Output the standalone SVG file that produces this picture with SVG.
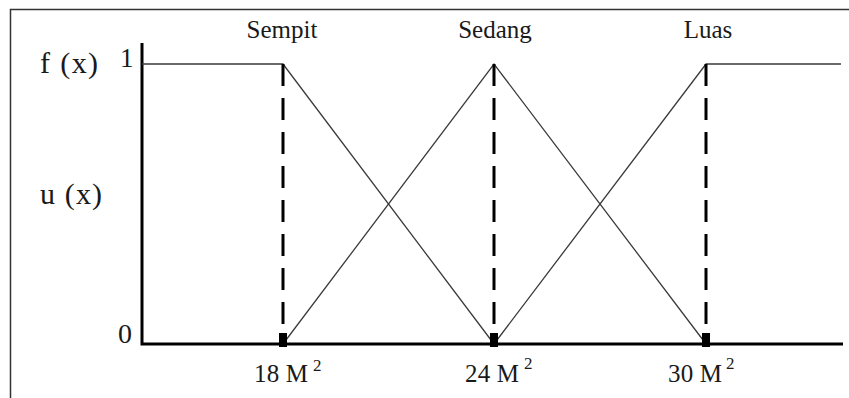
<svg xmlns="http://www.w3.org/2000/svg" width="849" height="398" viewBox="0 0 849 398">
<style>
text{font-family:'Liberation Serif','Times New Roman',Tinos,'DejaVu Serif',serif;fill:#1a1a1a}
.thin{stroke:#3a3a3a;stroke-width:1.3;fill:none}
.dash{stroke:#000;stroke-width:3;stroke-dasharray:22 12;fill:none}
.axis{stroke:#000;stroke-width:3;fill:none}
.frame{stroke:#333;stroke-width:1.5;fill:none}
</style>
<rect width="849" height="398" fill="#fff"/>
<g id="frame"><polyline class="frame" points="10.5,398 10.5,9.5 849,9.5"/></g>
<g id="axes">
<polyline class="axis" points="142,43 142,344 843,344"/>
</g>
<g id="connectors">
<polyline class="thin" points="142,64 283,64 494,344"/>
<polyline class="thin" points="283,344 494,64 706,344"/>
<polyline class="thin" points="494,344 706,64 841,64"/>
<line class="dash" x1="283" y1="64" x2="283" y2="340"/>
<line class="dash" x1="494" y1="64" x2="494" y2="340"/>
<line class="dash" x1="706" y1="64" x2="706" y2="340"/>
<rect x="279" y="333" width="8" height="14" fill="#000"/>
<rect x="490" y="333" width="8" height="14" fill="#000"/>
<rect x="702" y="333" width="8" height="14" fill="#000"/>
</g>
<g id="ylabels">
<text x="40" y="73" font-size="30" textLength="58" lengthAdjust="spacing">f (x)</text>
<text x="120" y="67" font-size="27">1</text>
<text x="40" y="204" font-size="30" textLength="62" lengthAdjust="spacing">u (x)</text>
<text x="118" y="343" font-size="28">0</text>
</g>
<g id="node-sempit"><text x="282" y="38" font-size="25" text-anchor="middle">Sempit</text></g>
<g id="node-sedang"><text x="495" y="38" font-size="25" text-anchor="middle">Sedang</text></g>
<g id="node-luas"><text x="708" y="38" font-size="25" text-anchor="middle">Luas</text></g>
<g id="xlabels">
<text x="254" y="382" font-size="25" textLength="54" lengthAdjust="spacing">18 M</text>
<text x="313" y="371" font-size="17">2</text>
<text x="465" y="382" font-size="25" textLength="54" lengthAdjust="spacing">24 M</text>
<text x="524" y="369" font-size="17">2</text>
<text x="668" y="382" font-size="25" textLength="54" lengthAdjust="spacing">30 M</text>
<text x="726" y="369" font-size="17">2</text>
</g>
</svg>
